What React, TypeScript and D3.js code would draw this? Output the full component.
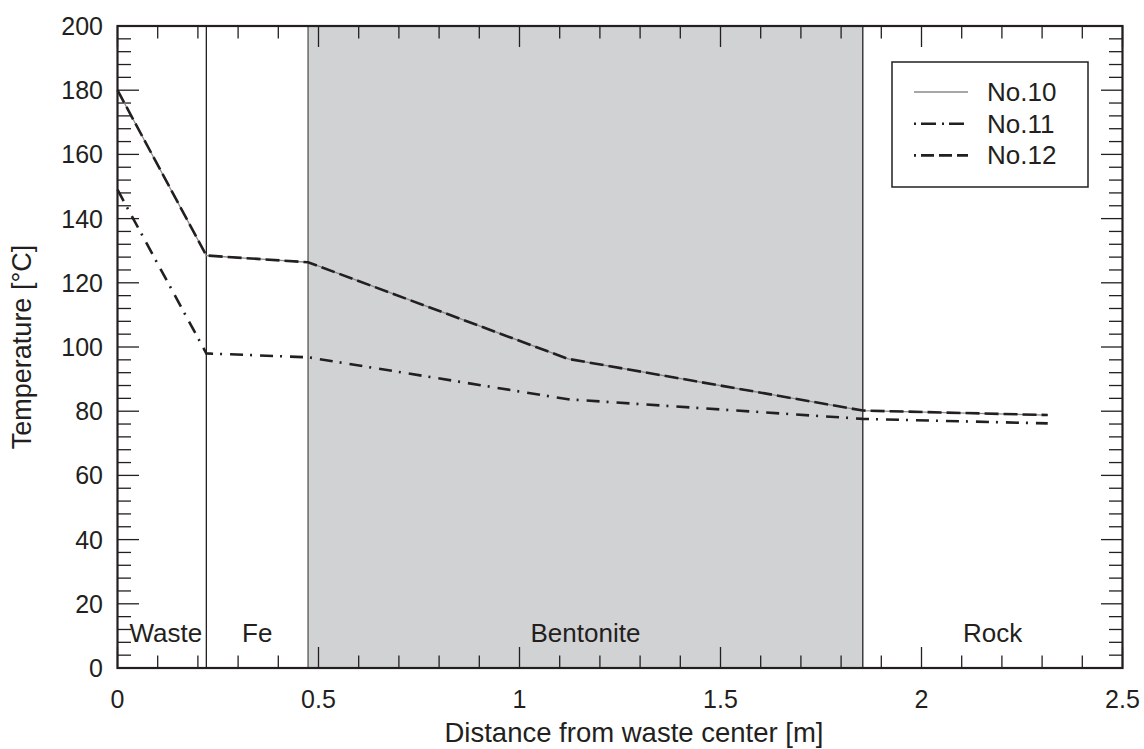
import React from "react";
import * as d3 from "d3";

const xPositions = [0, 0.221, 0.474, 1.121, 1.854, 2.314];
const seriesNames = ["No.10", "No.11", "No.12"];
const no10 = [180, 128.5, 126.4, 96.3, 80.2, 78.8];
const no11 = [149, 98, 96.8, 83.7, 77.6, 76.2];
const no12 = [180, 128.5, 126.4, 96.3, 80.2, 78.8];
const boundaries = [0.221, 0.474, 1.854];
const regionLabels = ["Waste", "Fe", "Bentonite", "Rock"];
const xTickLabels = [0, 0.5, 1, 1.5, 2, 2.5];
const yTickLabels = [0, 20, 40, 60, 80, 100, 120, 140, 160, 180, 200];

const W = 1144, H = 749;
const L = 117.5, R = 1122.5, T = 26, B = 668;
const INK = "#231f20";
const FONT = "'Liberation Sans', Arial, sans-serif";

export default function App() {
  const x = d3.scaleLinear().domain([0, 2.5]).range([L, R]);
  const y = d3.scaleLinear().domain([0, 200]).range([B, T]);
  const line = d3.line<number>().x((_, i) => x(xPositions[i])).y((d) => y(d));

  const xMinor = d3.range(0, 2.5001, 0.1).map((v) => +v.toFixed(2));
  const yMinor = d3.range(0, 200.001, 4);
  const isXMajor = (v: number) => Math.abs(v / 0.5 - Math.round(v / 0.5)) < 1e-6;
  const isYMajor = (v: number) => v % 20 === 0;

  const edges = [0, ...boundaries, 2.5];
  const styles = [
    { stroke: "#8a8a8a", width: 1.3, dash: "none", legendDash: "none", legendOffset: 0 },
    { stroke: INK, width: 2.6, dash: "13,7,2,8", legendDash: "2,5,15,6", legendOffset: 0 },
    { stroke: INK, width: 2.6, dash: "14,5", legendDash: "13,5", legendOffset: 11 },
  ];
  const data = [no10, no11, no12];
  const drawOrder = [0, 1, 2];

  return (
    <svg width={W} height={H} style={{ position: "absolute", left: 0, top: 0, background: "#fff" }} fontFamily={FONT}>
      {/* bentonite band */}
      <rect x={x(boundaries[1])} y={T} width={x(boundaries[2]) - x(boundaries[1])} height={B - T} fill="#d1d2d4" />
      {boundaries.map((b, i) => (
        <line key={"b" + i} x1={x(b)} x2={x(b)} y1={T} y2={B} stroke={i === 1 ? "#555" : INK} strokeWidth={1.3} />
      ))}
      {/* ticks */}
      {xMinor.map((v, i) => {
        const len = isXMajor(v) ? 21 : 12.5;
        return (
          <g key={"xt" + i} stroke={INK} strokeWidth={1.3}>
            <line x1={x(v)} x2={x(v)} y1={B} y2={B - len} />
            <line x1={x(v)} x2={x(v)} y1={T} y2={T + len} />
          </g>
        );
      })}
      {yMinor.map((v, i) => {
        const len = isYMajor(v) ? 21.5 : 13.5;
        return (
          <g key={"yt" + i} stroke={INK} strokeWidth={1.3}>
            <line x1={L} x2={L + len} y1={y(v)} y2={y(v)} />
            <line x1={R} x2={R - len} y1={y(v)} y2={y(v)} />
          </g>
        );
      })}
      {/* region labels */}
      {regionLabels.map((lab, i) => (
        <text key={lab} x={(x(edges[i]) + x(edges[i + 1])) / 2 + (i === 0 ? 4 : 0)} y={642} textAnchor="middle" fontSize={26} fill={INK}>
          {lab}
        </text>
      ))}
      {/* series */}
      {drawOrder.map((k) => (
        <path key={seriesNames[k]} d={line(data[k]) || ""} fill="none" stroke={styles[k].stroke}
          strokeWidth={styles[k].width} strokeDasharray={styles[k].dash} />
      ))}
      {/* frame */}
      <rect x={L} y={T} width={R - L} height={B - T} fill="none" stroke={INK} strokeWidth={2.2} />
      {/* tick labels */}
      {xTickLabels.map((v) => (
        <text key={"xl" + v} x={x(v)} y={708} textAnchor="middle" fontSize={25} fill={INK}>
          {String(v)}
        </text>
      ))}
      {yTickLabels.map((v) => (
        <text key={"yl" + v} x={103} y={y(v) + 9} textAnchor="end" fontSize={25} fill={INK}>
          {String(v)}
        </text>
      ))}
      <text x={(L + R) / 2 + 14} y={742} textAnchor="middle" fontSize={27.5} fill={INK}>
        Distance from waste center [m]
      </text>
      <text transform={`translate(31,${(T + B) / 2}) rotate(-90)`} textAnchor="middle" fontSize={27} fill={INK}>
        Temperature [°C]
      </text>
      {/* legend */}
      <rect x={892} y={62} width={196} height={125} fill="#fff" stroke={INK} strokeWidth={1.5} />
      {seriesNames.map((n, i) => (
        <g key={"lg" + n}>
          <line x1={914} x2={968} y1={92 + i * 31.7} y2={92 + i * 31.7} stroke={styles[i].stroke}
            strokeWidth={styles[i].width} strokeDasharray={styles[i].legendDash}
            strokeDashoffset={styles[i].legendOffset} />
          <text x={987} y={92 + i * 31.7 + 9} fontSize={26} fill={INK}>{n}</text>
        </g>
      ))}
    </svg>
  );
}
